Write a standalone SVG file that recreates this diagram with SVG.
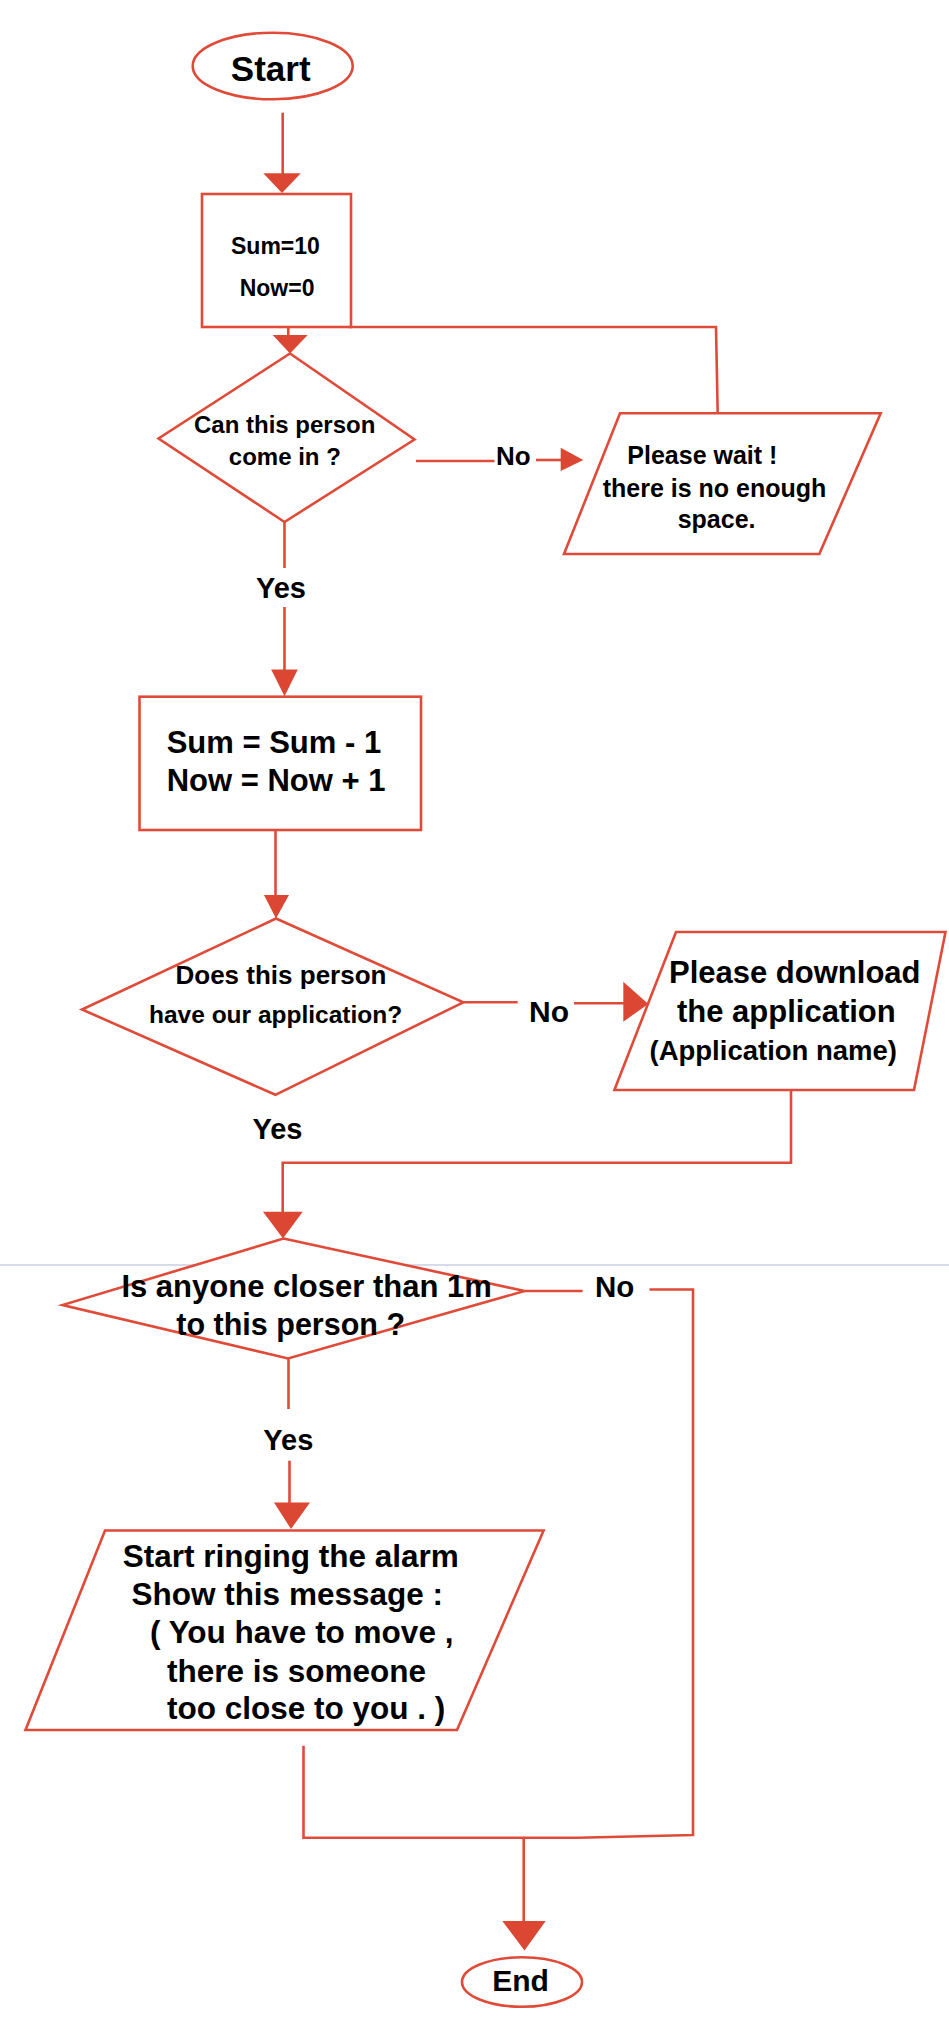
<svg xmlns="http://www.w3.org/2000/svg" width="949" height="2032" viewBox="0 0 949 2032">
<style>
.s{fill:#fff;stroke:#e04a38;stroke-width:2.6}
.c{fill:none;stroke:#e04a38;stroke-width:2.6}
.ah{fill:#db4733;stroke:none}
text{font-family:"Liberation Sans",Arial,Helvetica,sans-serif;font-weight:bold;fill:#000}
.m{text-anchor:middle}
</style>
<rect width="949" height="2032" fill="#fff"/>
<line x1="0" y1="1265" x2="949" y2="1265" stroke="#c7cfe0" stroke-width="1.6"/>
<g id="connectors">
<line class="c" x1="282.7" y1="112.7" x2="282.7" y2="175"/>
<polygon class="ah" points="263.3,173.3 300.8,173.3 282,193"/>
<polyline class="c" points="717.7,413.3 716,327 349,327"/>
<line class="c" x1="288.3" y1="327" x2="288.3" y2="336"/>
<polygon class="ah" points="272.7,335 307.7,335 290,353.5"/>
<line class="c" x1="416" y1="461" x2="494.5" y2="461"/>
<line class="c" x1="536" y1="460" x2="562" y2="460"/>
<polygon class="ah" points="560.7,447.7 560.7,471 583.3,460"/>
<text x="496" y="465" font-size="26">No</text>
<line class="c" x1="284.5" y1="522" x2="284.5" y2="568"/>
<text x="256" y="598" font-size="29">Yes</text>
<line class="c" x1="284.5" y1="607" x2="284.5" y2="671"/>
<polygon class="ah" points="271.2,669.4 297.8,669.4 284.5,696.2"/>
<line class="c" x1="275.5" y1="830" x2="275.5" y2="897"/>
<polygon class="ah" points="264,895 289,895 276,918.5"/>
<line class="c" x1="463.3" y1="1002.3" x2="517.7" y2="1002.3"/>
<line class="c" x1="574" y1="1003.3" x2="625" y2="1003.3"/>
<polygon class="ah" points="623.3,981.7 623.3,1021.7 648.3,1004"/>
<text x="529" y="1021.7" font-size="30">No</text>
<text x="252.4" y="1139" font-size="29">Yes</text>
<polyline class="c" points="791,1090 791,1162.7 282.7,1162.7 282.7,1213"/>
<polygon class="ah" points="263,1211.8 302.7,1211.8 283,1238.6"/>
<line class="c" x1="288.5" y1="1358.5" x2="288.5" y2="1409"/>
<text x="263.3" y="1449.6" font-size="29">Yes</text>
<line class="c" x1="289.5" y1="1460.7" x2="289.5" y2="1504"/>
<polygon class="ah" points="274,1502.6 310,1502.6 291,1529"/>
<line class="c" x1="524.6" y1="1291" x2="582.6" y2="1291"/>
<text x="595" y="1297" font-size="29.5">No</text>
<polyline class="c" points="303.5,1745.7 303.5,1837.7 578,1837.7 693,1835 693,1289.5 649.5,1289.5"/>
<line class="c" x1="523.7" y1="1837.7" x2="523.7" y2="1922"/>
<polygon class="ah" points="502.3,1921 545.7,1921 524.5,1950.5"/>
</g>
<g id="start">
<ellipse class="s" cx="272.7" cy="66" rx="80" ry="33.3"/>
<text class="m" x="270.7" y="81" font-size="35">Start</text>
</g>
<g id="init">
<rect class="s" x="202" y="194" width="149" height="133"/>
<text x="231" y="253.7" font-size="23">Sum=10</text>
<text x="239.7" y="296.3" font-size="23">Now=0</text>
</g>
<g id="can-enter">
<polygon class="s" points="290,353.5 414.5,439.5 284.5,522 158.5,438.5"/>
<text x="194" y="433.3" font-size="24">Can this person</text>
<text x="228.8" y="465" font-size="24">come in ?</text>
</g>
<g id="wait">
<polygon class="s" points="620,413.3 880.7,413.3 819.3,554 564,554"/>
<text x="627.3" y="464.3" font-size="25">Please wait !</text>
<text x="602.7" y="496.7" font-size="25">there is no enough</text>
<text x="677.7" y="528.3" font-size="25">space.</text>
</g>
<g id="update">
<rect class="s" x="139.5" y="696.7" width="281.5" height="133.3"/>
<text x="166.7" y="753.3" font-size="31">Sum = Sum - 1</text>
<text x="166.7" y="790.7" font-size="31">Now = Now + 1</text>
</g>
<g id="has-app">
<polygon class="s" points="276,918.5 463.3,1002.3 275.4,1094.8 82,1009.5"/>
<text x="175.5" y="984" font-size="26">Does this person</text>
<text x="149" y="1023" font-size="24.5">have our application?</text>
</g>
<g id="download">
<polygon class="s" points="676,932 945.5,932 914,1090 614.4,1090"/>
<text x="669" y="983" font-size="31">Please download</text>
<text x="677" y="1022" font-size="31">the application</text>
<text x="649.5" y="1060" font-size="27.5">(Application name)</text>
</g>
<g id="closer">
<polygon class="s" points="283.5,1238.5 524.6,1291 288,1358.5 62.5,1305"/>
<text x="121.4" y="1296.7" font-size="31">Is anyone closer than 1m</text>
<text x="176.3" y="1335" font-size="30.5">to this person ?</text>
</g>
<g id="alarm">
<polygon class="s" points="105,1530.5 543.6,1530.5 457,1730 25.5,1730"/>
<text x="122.8" y="1566.7" font-size="31.5">Start ringing the alarm</text>
<text x="131.4" y="1605" font-size="31.5">Show this message :</text>
<text x="150" y="1643" font-size="31.5">( You have to move ,</text>
<text x="167" y="1681.7" font-size="31.5">there is someone</text>
<text x="167" y="1719.3" font-size="31.5">too close to you . )</text>
</g>
<g id="end">
<ellipse class="s" cx="522" cy="1982" rx="60" ry="24.7"/>
<text class="m" x="520.5" y="1991" font-size="30">End</text>
</g>
</svg>
